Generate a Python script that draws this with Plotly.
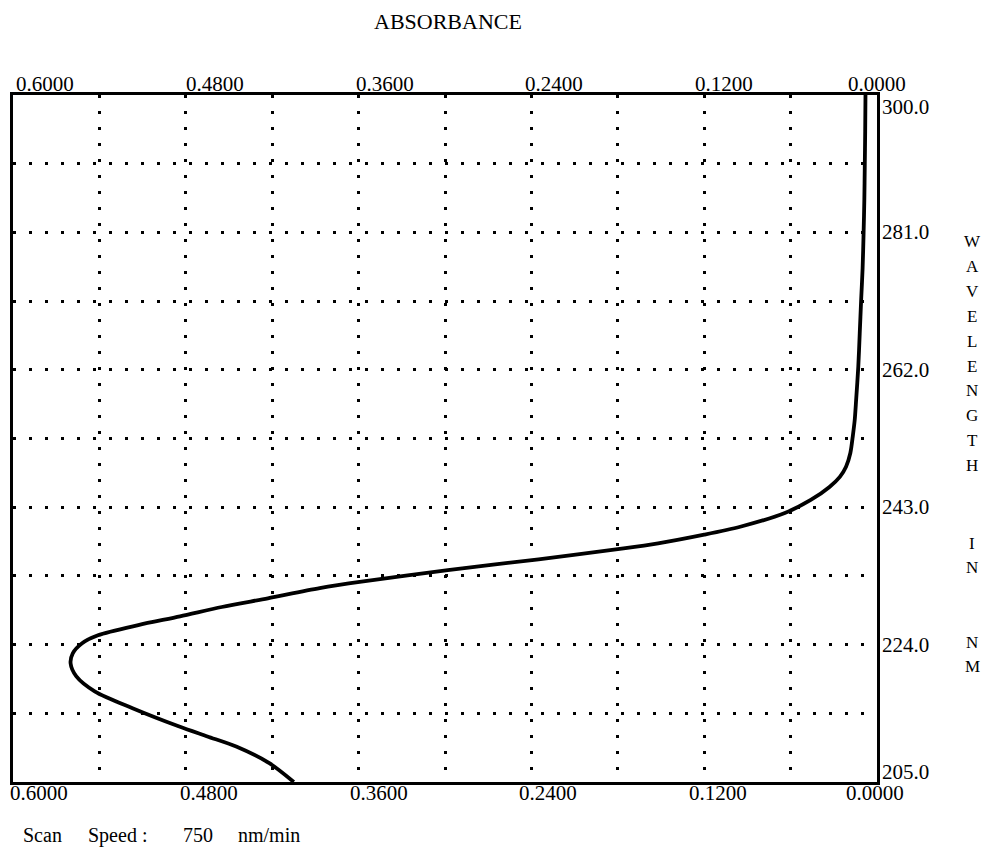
import plotly.graph_objects as go

# ---- data ----
wavelength = [300.0, 295.0, 290.0, 285.5, 281.0, 276.0, 271.7, 267.0, 262.4, 257.8,
              255.0, 253.0, 250.5, 248.6, 247.2, 245.8, 244.0, 242.2, 240.3, 239.2,
              238.0, 237.3, 235.8, 234.3, 232.7, 231.8, 230.4, 229.2, 227.9, 226.7,
              225.3, 224.2, 222.8, 221.4, 219.6, 217.5, 215.2, 212.7, 211.3, 209.9,
              207.6, 205.0]
absorbance = [0.0080, 0.0082, 0.0085, 0.0088, 0.0093, 0.0100, 0.0110, 0.0120, 0.0130, 0.0145,
              0.0155, 0.0167, 0.0185, 0.0215, 0.0258, 0.0330, 0.0460, 0.0640, 0.0950, 0.1200,
              0.1520, 0.1760, 0.2350, 0.2980, 0.3580, 0.3870, 0.4230, 0.4550, 0.4840, 0.5130,
              0.5410, 0.5520, 0.5585, 0.5600, 0.5560, 0.5430, 0.5170, 0.4850, 0.4650, 0.4450,
              0.4220, 0.4050]

x_tick_values = [0.6, 0.48, 0.36, 0.24, 0.12, 0.0]
x_tick_labels = ["0.6000", "0.4800", "0.3600", "0.2400", "0.1200", "0.0000"]
y_tick_values = [300.0, 281.0, 262.0, 243.0, 224.0, 205.0]
y_tick_labels = ["300.0", "281.0", "262.0", "243.0", "224.0", "205.0"]

title_text = "ABSORBANCE"
side_words = ["WAVELENGTH", "IN", "NM"]
footer_words = ["Scan", "Speed :", "750", "nm/min"]

FONT = "Liberation Serif, Times New Roman, serif"

fig = go.Figure()
fig.add_trace(go.Scatter(
    x=absorbance, y=wavelength, mode="lines",
    line=dict(color="black", width=3.8, shape="spline", smoothing=0.8),
    hoverinfo="skip", showlegend=False,
))

L, R, T, B = 13, 111, 95, 73
W, H = 988, 855

fig.update_layout(
    width=W, height=H,
    margin=dict(l=L, r=R, t=T, b=B),
    paper_bgcolor="white", plot_bgcolor="white",
    font=dict(family=FONT, color="black"),
    showlegend=False,
)
fig.update_xaxes(
    range=[0.6, 0.0], showticklabels=False, ticks="",
    tick0=0, dtick=0.06,
    showgrid=True, gridcolor="black", gridwidth=3, griddash="3px,13px",
    showline=True, linecolor="black", linewidth=3, mirror=True, zeroline=False,
)
fig.update_yaxes(
    range=[205, 300], showticklabels=False, ticks="",
    tick0=205, dtick=9.5,
    showgrid=True, gridcolor="black", gridwidth=3, griddash="3px,13px",
    showline=True, linecolor="black", linewidth=3, mirror=True, zeroline=False,
)

TICK_FONT = dict(size=21, family=FONT, color="black")
ann = []
n = len(x_tick_values)
for i, (v, lab) in enumerate(zip(x_tick_values, x_tick_labels)):
    last = (i == n - 1)
    ann.append(dict(x=v, xref="x", y=1, yref="paper", text=lab, showarrow=False,
                    xanchor="center" if last else "left",
                    xshift=0 if last else 1 - 3 * i,
                    yanchor="bottom", yshift=-3, font=TICK_FONT))
    ann.append(dict(x=v, xref="x", y=0, yref="paper", text=lab, showarrow=False,
                    xanchor="center" if last else "left",
                    xshift=-2 if last else -5 - 3 * i,
                    yanchor="top", yshift=3, font=TICK_FONT))

m = len(y_tick_values)
for i, (v, lab) in enumerate(zip(y_tick_values, y_tick_labels)):
    if i == 0:
        ya, ys = "top", 2
    elif i == m - 1:
        ya, ys = "bottom", -4
    else:
        ya, ys = "middle", 0
    ann.append(dict(x=1, xref="paper", y=v, yref="y", text=lab, showarrow=False,
                    xanchor="left", xshift=3, yanchor=ya, yshift=ys, font=TICK_FONT))

ann.append(dict(x=0.5, xref="paper", y=1, yref="paper", text=title_text, showarrow=False,
                xanchor="center", yanchor="middle", xshift=3, yshift=74,
                font=dict(size=22, family=FONT, color="black")))

# vertical stacked side label
starts = [242, 543, 642]
step = 24.8
for word, top_px in zip(side_words, starts):
    for j, ch in enumerate(word):
        ypx = top_px + j * step
        ann.append(dict(x=1, xref="paper", y=1 - (ypx - T) / (H - T - B), yref="paper",
                        text=ch, showarrow=False, xanchor="center", yanchor="middle",
                        xshift=972 - (W - R),
                        font=dict(size=17, family=FONT, color="black")))

footer_px = [23, 88, 183, 238]
for word, xp in zip(footer_words, footer_px):
    ann.append(dict(x=0, xref="paper", y=0, yref="paper", text=word, showarrow=False,
                    xanchor="left", yanchor="middle", xshift=xp - L - 2,
                    yshift=-(835 - (H - B)),
                    font=dict(size=20, family=FONT, color="black")))

fig.update_layout(annotations=ann)
fig.write_html("out.html")
